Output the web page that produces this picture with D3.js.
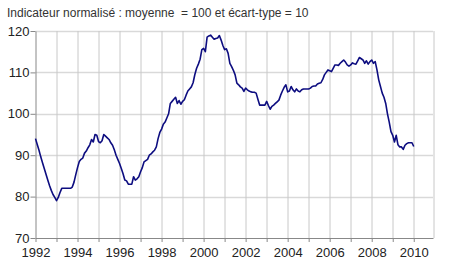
<!DOCTYPE html>
<html>
<head>
<meta charset="utf-8">
<script src="https://cdn.jsdelivr.net/npm/d3@7"></script>
<style>
body { margin:0; background:#fff; }
text { font-family: "Liberation Sans", Arial, sans-serif; }
</style>
</head>
<body>
<div class="canvas"></div>
<script>
// monthly values, Jan 1992 -> Jan 2010
const startYear = 1992;
const values = [
  94, 92.6, 91.2, 89.6, 88.2, 86.8, 85.4, 84, 82.7, 81.5, 80.5, 79.8,          // 1992
  79, 79.8, 81, 82, 82, 82, 82, 82, 82, 82.3, 83.5, 85.3,                      // 1993
  87, 88.5, 89, 89.3, 90.5, 91, 91.8, 92.5, 93.8, 93.2, 95, 94.8,               // 1994
  93.3, 93, 93.5, 95, 94.6, 94.2, 93.8, 93, 92.4, 91.3, 90, 89,                 // 1995
  88, 86.8, 85.5, 84, 83.8, 83, 83, 83, 84.8, 84, 84.3, 84.8,                   // 1996
  86, 87, 88.4, 88.7, 89, 90, 90.3, 90.8, 91.2, 92, 94, 95.5,                   // 1997
  96.3, 97.5, 98, 99, 100, 102.5, 103, 103.5, 104, 102.5, 103.2, 102.3,         // 1998
  103, 103.4, 104.5, 105.5, 106, 106.5, 107.5, 109.5, 111, 112, 113.2, 115.5,   // 1999
  115.8, 115, 118.5, 118.8, 119, 118.5, 118, 118.2, 118.3, 118.9, 117.8, 116.5, // 2000
  115.5, 115.7, 114.6, 112.2, 111.4, 110.5, 109.4, 107.4, 107, 106.5, 106.2, 105.4, // 2001
  106.2, 105.8, 105.5, 105.3, 105.2, 105.2, 105, 103.5, 102.1, 102.1, 102.1, 102.1, // 2002
  103, 102, 101.1, 101.8, 102.1, 102.5, 102.9, 103.3, 104.5, 105.5, 106.4, 107, // 2003
  105.3, 105.5, 106.6, 105.8, 105.3, 106, 105.5, 105.3, 105.8, 106, 106, 106,   // 2004
  106, 106.2, 106.6, 106.7, 106.7, 107.2, 107.4, 107.5, 108.3, 109.4, 110, 110.6, // 2005
  110.4, 110.2, 111, 111.8, 111.8, 111.7, 112.2, 112.6, 113, 112.5, 111.8, 111.5, // 2006
  111.8, 112.3, 112.1, 112, 112.8, 113.6, 113.3, 113, 112.2, 112.8, 112, 112.6, // 2007
  113, 112.2, 112.6, 110.6, 108.2, 106.6, 105, 104, 102.5, 100, 98, 95.7,       // 2008
  94.8, 93.2, 94.8, 92.5, 92, 92, 91.4, 92.4, 92.8, 93, 93, 93,                 // 2009
  92.1                                                                          // 2010
];
const yTicks = [70, 80, 90, 100, 110, 120];
const xTicks = d3.range(1992, 2011);
const title = 'Indicateur normalisé : moyenne  = 100 et écart-type = 10';

const width = 450, height = 279;
const margin = {top:31, right:17, bottom:41, left:35.5};
const graphWidth = width - margin.left - margin.right;
const graphHeight = height - margin.top - margin.bottom;

const svg = d3.select('.canvas')
  .append('svg')
    .attr('width', width)
    .attr('height', height);

svg.append('text')
  .attr('x', 7)
  .attr('y', 17)
  .attr('font-size', 12)
  .attr('fill', '#333')
  .style('white-space', 'pre')
  .text(title);

const graph = svg.append('g')
  .attr('transform', `translate(${margin.left},${margin.top})`);

// scales
const x = d3.scaleLinear()
  .domain([startYear, startYear + 227 / 12])
  .range([0, graphWidth]);
const y = d3.scaleLinear()
  .domain([70, 120])
  .range([graphHeight, 0]);

// grid
graph.append('g')
  .selectAll('line')
  .data(yTicks.slice(1))
  .join('line')
    .attr('x1', 0).attr('x2', graphWidth)
    .attr('y1', d => Math.round(y(d)) + 0.5).attr('y2', d => Math.round(y(d)) + 0.5)
    .attr('stroke', '#d9d9d9')
    .attr('stroke-width', 1.5);

graph.append('g')
  .selectAll('line')
  .data(xTicks.slice(1).concat([x.domain()[1]]))
  .join('line')
    .attr('x1', d => Math.round(x(d)) + 0.5).attr('x2', d => Math.round(x(d)) + 0.5)
    .attr('y1', 0).attr('y2', graphHeight)
    .attr('stroke', '#c8c8c8');

// axes
const xAxis = d3.axisBottom(x)
  .tickValues(xTicks)
  .tickSize(4)
  .tickSizeOuter(0)
  .tickFormat(d => d % 2 === 0 ? d : '');
const yAxis = d3.axisLeft(y)
  .tickValues(yTicks)
  .tickSize(5)
  .tickSizeOuter(0);

const xAxisGroup = graph.append('g')
  .attr('transform', `translate(0,${graphHeight})`)
  .call(xAxis);
const yAxisGroup = graph.append('g')
  .call(yAxis);

[xAxisGroup, yAxisGroup].forEach(g => {
  g.select('.domain').attr('stroke', '#888');
  g.selectAll('.tick line').attr('stroke', '#888');
  g.selectAll('text')
    .attr('fill', '#222')
    .attr('font-size', 13)
    .style('font-family', '"Liberation Sans", Arial, sans-serif');
});
xAxisGroup.selectAll('text').attr('dy', '0.9em');
yAxisGroup.selectAll('text').attr('x', -6);

// line
const line = d3.line()
  .x((d, i) => x(startYear + i / 12))
  .y(d => y(d));

graph.append('path')
  .datum(values)
  .attr('d', line)
  .attr('fill', 'none')
  .attr('stroke', '#0d0d80')
  .attr('stroke-width', 1.6)
  .attr('stroke-linejoin', 'round');
</script>
</body>
</html>
